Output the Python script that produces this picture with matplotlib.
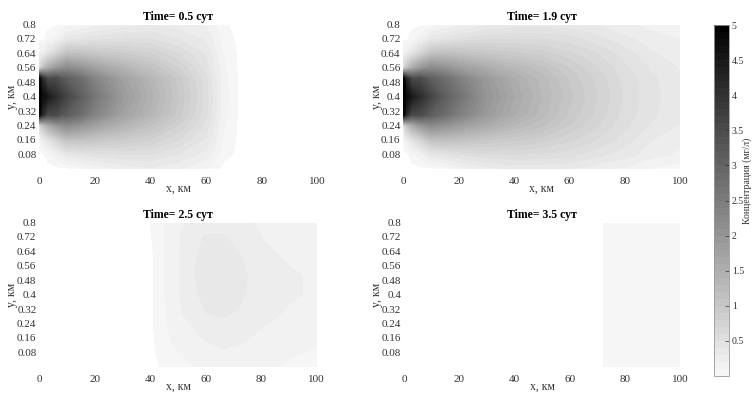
import numpy as np
import matplotlib
matplotlib.use("Agg")
import matplotlib.pyplot as plt
from matplotlib.colors import LinearSegmentedColormap, Normalize
from matplotlib.cm import ScalarMappable

plt.rcParams['font.family'] = ['Liberation Serif', 'DejaVu Serif']

# grid of the model output (km)
x_km = [0, 1, 3, 6, 10, 15, 20, 30, 40, 50, 60, 66, 72, 80, 90, 100]
y_km = [0, 0.08, 0.16, 0.24, 0.30, 0.40, 0.50, 0.56, 0.64, 0.72, 0.80]

times = ["0.5", "1.9", "2.5", "3.5"]

# concentration, mg/l, rows = y_km, cols = x_km
conc_05 = [
    [0, 0, 0, 0, 0, 0.05, 0.12, 0.22, 0.28, 0.22, 0.10, 0, 0, 0, 0, 0],
    [0, 0, 0.05, 0.15, 0.35, 0.40, 0.45, 0.50, 0.50, 0.40, 0.26, 0.05, 0, 0, 0, 0],
    [0.05, 0.20, 0.40, 0.70, 1.10, 1.10, 1.00, 0.90, 0.80, 0.60, 0.37, 0.09, 0, 0, 0, 0],
    [0.50, 1.00, 1.50, 1.90, 2.20, 2.00, 1.75, 1.40, 1.10, 0.80, 0.45, 0.12, 0, 0, 0, 0],
    [5, 4.20, 3.50, 3.50, 3.10, 2.80, 2.35, 1.75, 1.35, 0.95, 0.52, 0.14, 0, 0, 0, 0],
    [5, 4.80, 4.50, 4.10, 3.60, 3.10, 2.60, 1.90, 1.45, 1.00, 0.55, 0.15, 0, 0, 0, 0],
    [5, 4.20, 3.50, 3.50, 3.10, 2.80, 2.35, 1.75, 1.35, 0.95, 0.52, 0.14, 0, 0, 0, 0],
    [0.60, 1.00, 1.50, 1.90, 2.20, 2.00, 1.75, 1.40, 1.10, 0.80, 0.45, 0.13, 0, 0, 0, 0],
    [0.20, 0.20, 0.40, 0.70, 1.10, 1.10, 1.00, 0.90, 0.80, 0.60, 0.38, 0.10, 0, 0, 0, 0],
    [0, 0, 0.05, 0.15, 0.35, 0.40, 0.45, 0.50, 0.50, 0.40, 0.28, 0.06, 0, 0, 0, 0],
    [0, 0, 0, 0, 0.05, 0.08, 0.15, 0.25, 0.30, 0.25, 0.18, 0.03, 0, 0, 0, 0],
]

conc_19 = [
    [0, 0, 0, 0, 0, 0.05, 0.14, 0.26, 0.32, 0.32, 0.30, 0.27, 0.22, 0.18, 0.08, 0.05],
    [0, 0, 0.05, 0.15, 0.35, 0.42, 0.50, 0.58, 0.60, 0.58, 0.54, 0.48, 0.42, 0.35, 0.24, 0.18],
    [0.05, 0.20, 0.40, 0.70, 1.10, 1.15, 1.10, 1.00, 0.92, 0.85, 0.72, 0.65, 0.57, 0.45, 0.30, 0.23],
    [0.50, 1.00, 1.50, 1.90, 2.20, 2.05, 1.85, 1.55, 1.30, 1.12, 0.90, 0.78, 0.67, 0.52, 0.38, 0.29],
    [5, 4.20, 3.50, 3.50, 3.10, 2.80, 2.45, 1.90, 1.52, 1.25, 0.98, 0.85, 0.73, 0.56, 0.42, 0.32],
    [5, 4.80, 4.50, 4.10, 3.60, 3.10, 2.70, 2.00, 1.60, 1.30, 1.03, 0.89, 0.76, 0.58, 0.43, 0.33],
    [5, 4.20, 3.50, 3.50, 3.10, 2.80, 2.45, 1.90, 1.52, 1.25, 0.98, 0.85, 0.73, 0.56, 0.42, 0.32],
    [0.60, 1.00, 1.50, 1.90, 2.20, 2.05, 1.85, 1.55, 1.30, 1.12, 0.90, 0.78, 0.67, 0.52, 0.38, 0.29],
    [0.20, 0.20, 0.40, 0.70, 1.10, 1.15, 1.10, 1.00, 0.92, 0.85, 0.72, 0.65, 0.57, 0.45, 0.31, 0.25],
    [0, 0, 0.05, 0.15, 0.35, 0.42, 0.50, 0.58, 0.60, 0.58, 0.54, 0.48, 0.42, 0.33, 0.24, 0.20],
    [0, 0, 0, 0, 0.05, 0.10, 0.18, 0.28, 0.34, 0.36, 0.34, 0.31, 0.27, 0.22, 0.16, 0.14],
]

conc_25 = [
    [0, 0, 0, 0, 0, 0, 0, 0, 0, 0.06, 0.13, 0.15, 0.15, 0.13, 0.09, 0.08],
    [0, 0, 0, 0, 0, 0, 0, 0, 0, 0.10, 0.17, 0.19, 0.18, 0.15, 0.11, 0.09],
    [0, 0, 0, 0, 0, 0, 0, 0, 0, 0.14, 0.21, 0.23, 0.22, 0.18, 0.14, 0.11],
    [0, 0, 0, 0, 0, 0, 0, 0, 0, 0.16, 0.26, 0.28, 0.26, 0.21, 0.17, 0.14],
    [0, 0, 0, 0, 0, 0, 0, 0, 0, 0.18, 0.30, 0.32, 0.29, 0.23, 0.19, 0.16],
    [0, 0, 0, 0, 0, 0, 0, 0, 0, 0.19, 0.34, 0.35, 0.32, 0.25, 0.21, 0.19],
    [0, 0, 0, 0, 0, 0, 0, 0, 0, 0.19, 0.36, 0.37, 0.33, 0.25, 0.21, 0.19],
    [0, 0, 0, 0, 0, 0, 0, 0, 0, 0.19, 0.36, 0.37, 0.32, 0.24, 0.20, 0.18],
    [0, 0, 0, 0, 0, 0, 0, 0, 0, 0.19, 0.34, 0.35, 0.30, 0.22, 0.18, 0.17],
    [0, 0, 0, 0, 0, 0, 0, 0, 0.01, 0.19, 0.31, 0.31, 0.26, 0.20, 0.17, 0.16],
    [0, 0, 0, 0, 0, 0, 0, 0, 0.02, 0.18, 0.26, 0.26, 0.22, 0.19, 0.16, 0.15],
]

nan = np.nan
conc_35 = [[nan] * 12 + [0.05, 0.05, 0.05, 0.05] for _ in y_km]

xticks = [0, 20, 40, 60, 80, 100]
yticks = [0.08, 0.16, 0.24, 0.32, 0.40, 0.48, 0.56, 0.64, 0.72, 0.80]
ytick_labels = ["0.08", "0.16", "0.24", "0.32", "0.4", "0.48", "0.56", "0.64", "0.72", "0.8"]
cbar_ticks = [0, 0.5, 1, 1.5, 2, 2.5, 3, 3.5, 4, 4.5, 5]
cbar_labels = ["0", "0.5", "1", "1.5", "2", "2.5", "3", "3.5", "4", "4.5", "5"]

cmap = LinearSegmentedColormap.from_list("conc", ["#f9f9f9", "#000000"])
norm = Normalize(0, 5)
levels = np.linspace(0, 5, 51)
levels[0] = 0.02

fig = plt.figure(figsize=(7.54, 3.96), dpi=100)
positions = [
    [0.052, 0.574, 0.369, 0.364],
    [0.535, 0.574, 0.367, 0.364],
    [0.052, 0.074, 0.368, 0.364],
    [0.536, 0.074, 0.366, 0.364],
]
fields = [conc_05, conc_19, conc_25, conc_35]

X, Y = np.meshgrid(x_km, y_km)
for pos, t, field in zip(positions, times, fields):
    ax = fig.add_axes(pos)
    Z = np.array(field, dtype=float)
    ax.contourf(X, Y, Z, levels=levels, cmap=cmap, norm=norm)
    ax.set_xlim(0, 100)
    ax.set_ylim(0, 0.8)
    for s in ax.spines.values():
        s.set_visible(False)
    ax.set_xticks(xticks)
    ax.set_yticks(yticks)
    ax.set_yticklabels(ytick_labels)
    ax.tick_params(axis="both", length=0, labelsize=8, colors="#333333")
    ax.tick_params(axis="x", pad=6)
    ax.tick_params(axis="y", pad=2)
    ax.set_title(f"Time= {t} сут", fontsize=8.5, fontweight="bold", pad=3)
    ax.set_xlabel("x, км", fontsize=8.5, color="#333333")
    ax.set_ylabel("y, км", fontsize=8.5, color="#333333")
    ax.xaxis.set_label_coords(0.5, -0.1)
    ax.yaxis.set_label_coords(-0.075, 0.5)

cax = fig.add_axes([0.947, 0.0505, 0.0199, 0.886])
cb = fig.colorbar(ScalarMappable(norm=norm, cmap=cmap), cax=cax,
                  boundaries=levels, ticks=cbar_ticks)
cb.ax.set_yticklabels(cbar_labels)
cb.outline.set_edgecolor("#999999")
cb.outline.set_linewidth(0.6)
cb.ax.tick_params(direction="in", length=3, width=0.5, labelsize=7,
                  colors="#333333", pad=2)
fig.text(0.991, 0.543, "Концентрация (мг/л)", rotation=90, fontsize=7,
         ha="center", va="center", color="#333333")

fig.savefig("out.png", dpi=100)
